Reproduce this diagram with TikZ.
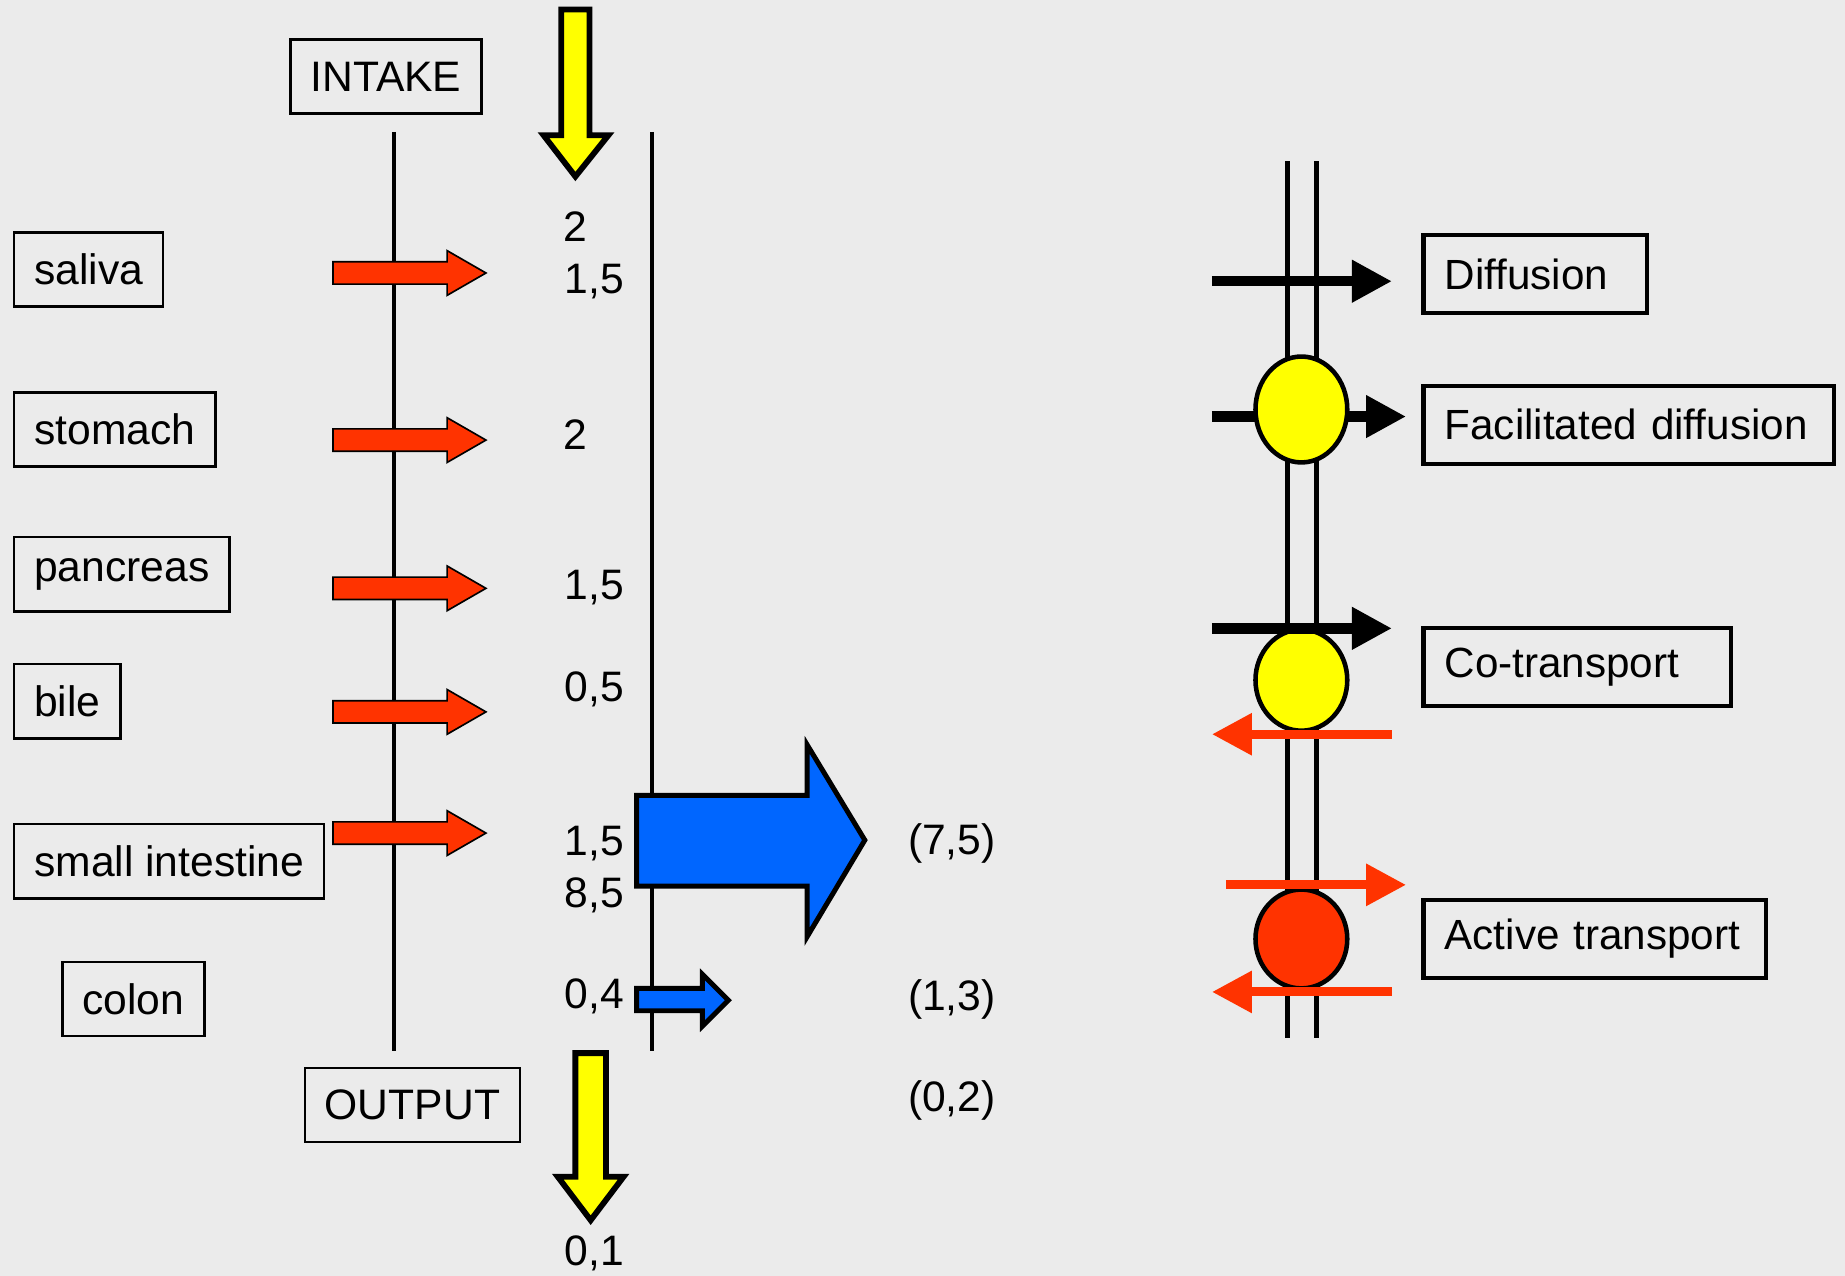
\documentclass[tikz,border=0pt]{standalone}
\usepackage{fontspec}
\setmainfont{Liberation Sans}
\usetikzlibrary{arrows.meta}

\tikzset{
  lbox/.style={draw=black, line width=0.6pt, fill=none, inner xsep=0.17cm, inner ysep=0pt,
    minimum height=0.63cm, font=\fontsize{10.3}{12}\selectfont},
  rbox/.style={draw=black, line width=1pt, inner xsep=0.18cm, inner ysep=0pt, align=left,
    minimum height=0.66cm, font=\fontsize{10.2}{12}\selectfont},
  num/.style={inner sep=0pt, font=\fontsize{10.3}{12}\selectfont},
  yarrow/.style={fill=arryellow, draw=black, line width=1.4pt, line join=miter},
  barrow/.style={fill=arrblue, draw=black, line width=1.2pt, line join=miter},
  rarrow/.style={fill=arrred, draw=black, line width=0.4pt},
  mem/.style={line width=1.1pt},
  carrier/.style={draw=black, line width=1.1pt},
  flux/.style={line width=2.5pt, -{Triangle[length=3.4mm, width=3.4mm]}},
}

\begin{document}
\begin{tikzpicture}[x=0.01cm, y=-0.01cm]
        % Define colors
        \definecolor{bg}{RGB}{235, 235, 235}
        \definecolor{arryellow}{RGB}{255, 255, 0}
        \definecolor{arrblue}{RGB}{0, 102, 255}
        \definecolor{arrred}{RGB}{255, 51, 0}

        \fill[bg] (0,0) rectangle (1568,1084);
        \useasboundingbox (0,0) rectangle (1568,1084);

        % --- GUT TUBE ---
        \draw[line width=1pt] (335,112) -- (335,893);
        \draw[line width=1pt] (554,112) -- (554,893);

        % Intake and output
        \node[lbox] (intake) at (328,65) {INTAKE};
        \node[lbox, anchor=west] (output) at (258,939) {OUTPUT};
        \filldraw[yarrow] (477,8) -- (501,8) -- (501,115) -- (517,115) -- (489,150)
            -- (462,115) -- (477,115) -- cycle;
        \filldraw[yarrow] (489,895) -- (515,895) -- (515,1000) -- (530,1000) -- (502,1037)
            -- (474,1000) -- (489,1000) -- cycle;

        % Secretions
        \node[lbox, anchor=west] (saliva) at (11,229) {saliva};
        \node[lbox, anchor=west] (stomach) at (11,365) {stomach};
        \node[lbox, anchor=west] (pancreas) at (11,488) {pancreas};
        \node[lbox, anchor=west] (bile) at (11,596) {bile};
        \node[lbox, anchor=west] (smallint) at (11,732) {small intestine};
        \node[lbox, anchor=west] (colon) at (52,849) {colon};

        \foreach \y in {232,374,500,605,708}
          \filldraw[rarrow] (283,\y-9.5) -- (380,\y-9.5) -- (380,\y-19) -- (413,\y)
              -- (380,\y+19) -- (380,\y+9.5) -- (283,\y+9.5) -- cycle;

        % Volumes
        \node[num] (v1) at (489,193) {2};
        \node[num] (v2) at (505,239) {1,5};
        \node[num] (v3) at (489,369) {2};
        \node[num] (v4) at (505,499) {1,5};
        \node[num] (v5) at (505,586) {0,5};
        \node[num] (v6) at (505,717) {1,5};
        \node[num] (v7) at (505,761) {8,5};
        \node[num] (v8) at (505,847) {0,4};
        \node[num] (v9) at (505,1065) {0,1};

        % Absorption
        \filldraw[barrow] (541,676) -- (686,676) -- (686,633) -- (735,714) -- (686,796)
            -- (686,753) -- (541,753) -- cycle;
        \filldraw[barrow] (541,840) -- (597,840) -- (597,828) -- (619,850) -- (597,872)
            -- (597,859) -- (541,859) -- cycle;
        \node[num] (a1) at (809,717) {(7,5)};
        \node[num] (a2) at (809,849) {(1,3)};
        \node[num] (a3) at (809,935) {(0,2)};

        % --- MEMBRANE ---
        \draw[mem] (1094,137) -- (1094,882);
        \draw[mem] (1119,137) -- (1119,882);

        % Diffusion
        \draw[flux] (1030,239) -- (1183,239);
        \node[rbox, anchor=west, text width=1.54cm] (diff) at (1208,233) {Diffusion};

        % Facilitated diffusion
        \draw[flux] (1030,354) -- (1195,354);
        \filldraw[carrier, fill=arryellow] (1106,348) ellipse (39 and 45);
        \node[rbox, anchor=west, text width=3.13cm] (facdiff) at (1208,361) {Facilitated diffusion};

        % Co-transport
        \filldraw[carrier, fill=arryellow] (1106,578) ellipse (39 and 43);
        \draw[flux] (1030,534) -- (1183,534);
        \draw[flux, arrred, line width=2.2pt] (1183,624) -- (1030,624);
        \node[rbox, anchor=west, text width=2.25cm] (cotrans) at (1208,567) {Co-transport};

        % Active transport
        \filldraw[carrier, fill=arrred] (1106,798) ellipse (39 and 42);
        \draw[flux, arrred, line width=2.2pt] (1042,752) -- (1195,752);
        \draw[flux, arrred, line width=2.2pt] (1183,843) -- (1030,843);
        \node[rbox, anchor=west, text width=2.55cm] (acttrans) at (1208,798) {Active transport};
\end{tikzpicture}
\end{document}
